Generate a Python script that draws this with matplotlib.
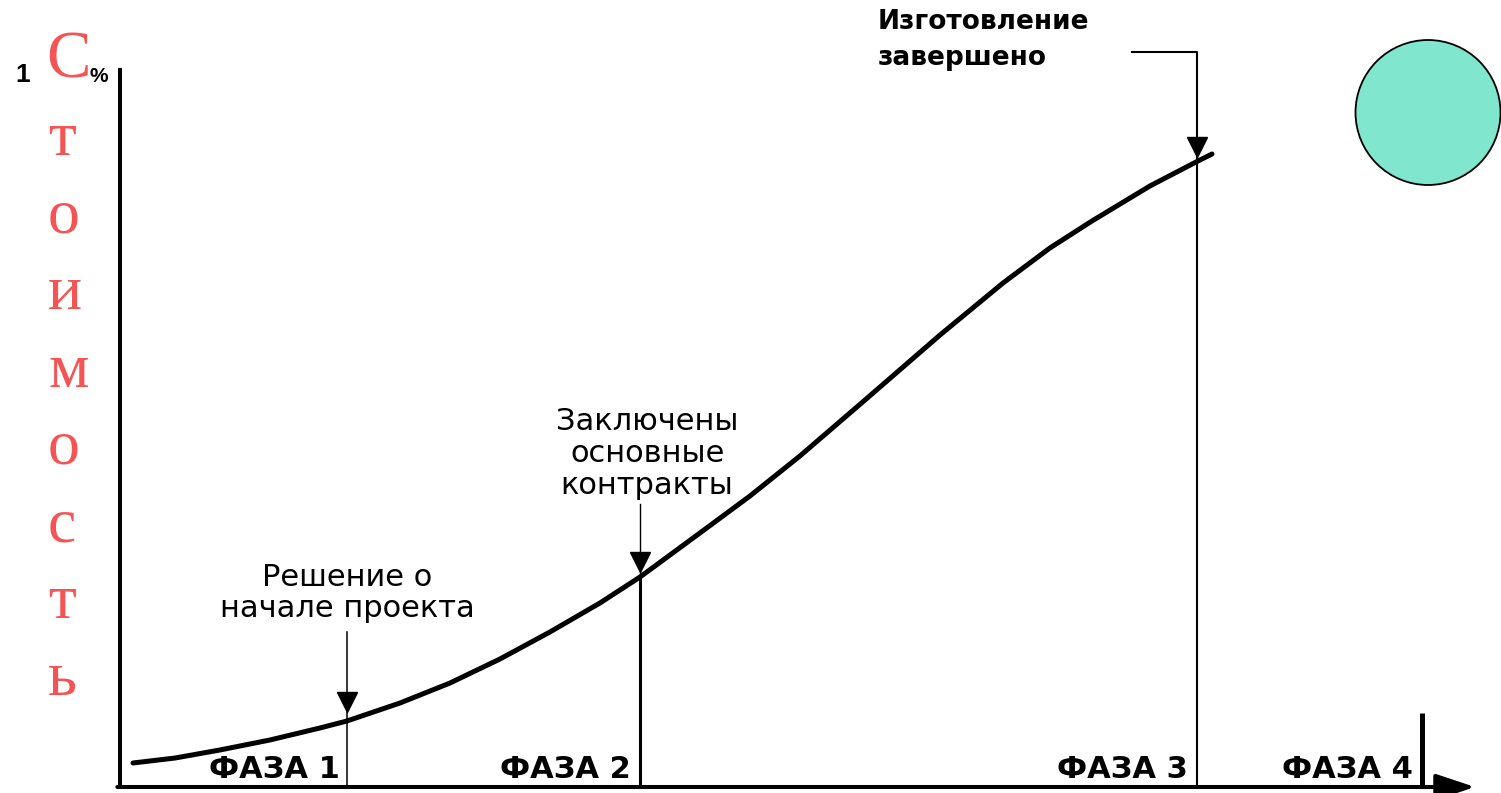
import matplotlib.pyplot as plt
from matplotlib.patches import Circle

# cost curve (time in % of project, cost in %)
time = [0.96, 4.06, 7.38, 11.07, 14.76, 16.75, 20.66, 24.35, 28.04, 31.73,
        35.42, 38.38, 42.80, 46.49, 50.18, 54.98, 60.52, 65.17, 68.63, 71.73,
        76.01, 79.56, 80.59]
cost = [3.34, 4.03, 5.15, 6.54, 8.21, 9.18, 11.68, 14.46, 17.80, 21.56,
        25.59, 29.21, 35.33, 40.47, 46.04, 53.82, 62.87, 70.10, 74.97, 78.72,
        83.59, 87.07, 88.04]

phase_labels = ["ФАЗА 1", "ФАЗА 2", "ФАЗА 3", "ФАЗА 4"]
phase_label_x = [11.4, 32.9, 74.0, 90.6]

milestone_x = [16.75, 38.38, 79.5]
milestone_cost = [9.18, 29.21, 87.07]
milestone_tip = [10.4, 29.8, 87.6]
milestone_top = [21.6, 39.4, 102.2]
milestone_text = ["Решение о\nначале проекта",
                  "Заключены\nосновные\nконтракты",
                  "Изготовление\nзавершено"]
phase4_end = 96.1
phase4_top = 10.3

W, H = 1501, 793
fig = plt.figure(figsize=(W / 100, H / 100), dpi=100)
ax = fig.add_axes([0, 0, 1, 1])
ax.set_xlim(-8.856, 101.92)
ax.set_ylim(-0.834, 109.46)
ax.axis('off')

# axes
ax.plot([0, 0], [0, 100], color='black', lw=2.9, solid_capstyle='butt')
ax.annotate('', xy=(100, 0), xytext=(-0.2, 0),
            arrowprops=dict(arrowstyle='-|>,head_length=1.2,head_width=0.4',
                            mutation_scale=20, lw=2.9, color='black',
                            shrinkA=0, shrinkB=0))

# curve
ax.plot(time, cost, color='black', lw=3.6, solid_capstyle='round',
        solid_joinstyle='round')

# milestone 1
ax.plot([milestone_x[0]] * 2, [0, milestone_top[0]], color='black', lw=1.1)
# milestone 2
ax.plot([milestone_x[1]] * 2, [0, milestone_cost[1]], color='black', lw=2.2)
ax.plot([milestone_x[1]] * 2, [milestone_cost[1], milestone_top[1]], color='black', lw=1.0)
# milestone 3 with bracket
ax.plot([74.7, milestone_x[2], milestone_x[2]], [milestone_top[2], milestone_top[2], 0],
        color='black', lw=1.5)
# end of phase 4
ax.plot([phase4_end] * 2, [0, phase4_top], color='black', lw=3.6, solid_capstyle='butt')

# arrow heads on the curve (marker centre sits half a marker above the tip)
for mx, mt in zip(milestone_x, milestone_tip):
    ax.plot(mx, mt + 1.45, marker='v', ms=15, color='black')

# texts
ax.text(milestone_x[0], 27.0, milestone_text[0], ha='center', va='center',
        fontsize=22, family='DejaVu Sans', linespacing=1.06)
ax.text(38.9, 46.45, milestone_text[1], ha='center', va='center',
        fontsize=22, family='DejaVu Sans', linespacing=1.13)
ax.text(55.9, 103.9, milestone_text[2], ha='left', va='center',
        fontsize=19, family='DejaVu Sans', weight='bold', linespacing=1.52)

for lab, lx in zip(phase_labels, phase_label_x):
    ax.text(lx, 2.4, lab, ha='center', va='center', fontsize=22,
            family='DejaVu Sans', weight='bold')

# "100%" of the cost axis, mostly hidden behind the red letter
fig.text(15 / W, 1 - 82 / H, "1", ha='left', va='baseline', fontsize=19,
         family='Liberation Sans', weight='bold')
fig.text(89 / W, 1 - 82 / H, "%", ha='left', va='baseline', fontsize=15,
         family='Liberation Sans', weight='bold')

red = '#F55454'
fig.text(46 / W, 1 - 78 / H, "С", ha='left', va='baseline', fontsize=48,
         family='Liberation Serif', color=red)
for i, ch in enumerate("тоимость"):
    fig.text(48 / W, 1 - (155 + 77.2 * i) / H, ch, ha='left', va='baseline',
             fontsize=46, family='Liberation Serif', color=red)

# circle
fig.add_artist(Circle((1428 / 100, (H - 112.5) / 100), 0.725,
                      transform=fig.dpi_scale_trans, facecolor='#80E6CE',
                      edgecolor='black', lw=1.3))

fig.savefig('out.png', dpi=100)
